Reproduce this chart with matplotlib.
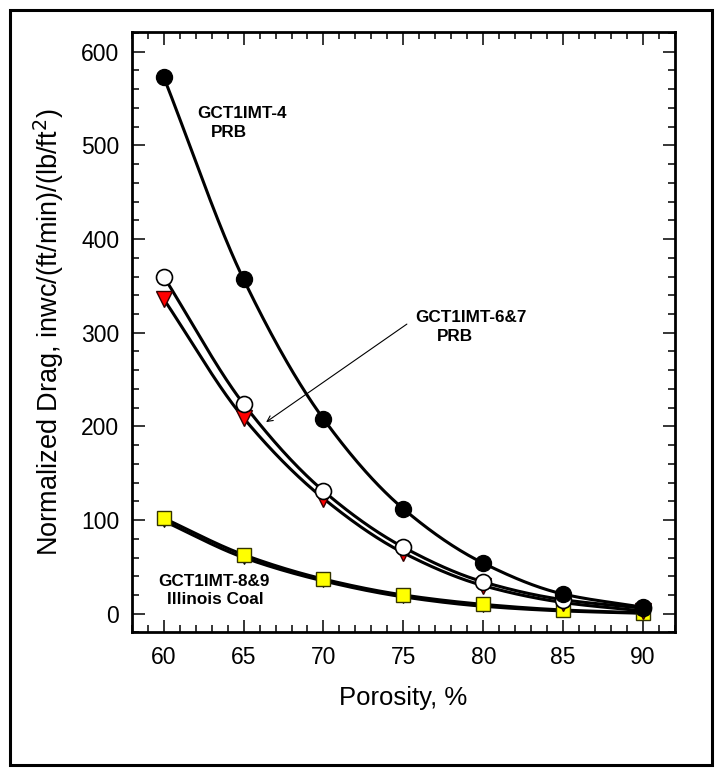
import numpy as np
import matplotlib
matplotlib.use("Agg")
import matplotlib.pyplot as plt
from matplotlib.patches import Rectangle
from matplotlib.ticker import MultipleLocator

plt.rcParams['font.family'] = ['Liberation Sans', 'DejaVu Sans']

porosity = [60, 65, 70, 75, 80, 85, 90]
drag_imt4 = [573, 357, 208, 112, 54, 21, 7]
drag_imt6 = [360, 224, 131, 71, 34, 15, 6]
drag_imt7 = [336, 209, 123, 65, 30, 12, 3]
drag_imt9 = [99, 60, 35, 18, 8, 3, 0.5]
drag_imt8 = [102, 63, 37, 20, 10, 4, 1]


def pchip(x, y, xs):
    """Monotone cubic Hermite curve through the measured points."""
    x = np.asarray(x, float)
    y = np.asarray(y, float)
    h = np.diff(x)
    d = np.diff(y) / h
    m = np.zeros_like(y)
    for k in range(1, len(x) - 1):
        if d[k - 1] * d[k] > 0:
            w1 = 2 * h[k] + h[k - 1]
            w2 = h[k] + 2 * h[k - 1]
            m[k] = (w1 + w2) / (w1 / d[k - 1] + w2 / d[k])
    m[0] = d[0]
    m[-1] = d[-1]
    idx = np.clip(np.searchsorted(x, xs) - 1, 0, len(x) - 2)
    t = (xs - x[idx]) / h[idx]
    h00 = 2 * t**3 - 3 * t**2 + 1
    h10 = t**3 - 2 * t**2 + t
    h01 = -2 * t**3 + 3 * t**2
    h11 = t**3 - t**2
    return (h00 * y[idx] + h10 * h[idx] * m[idx]
            + h01 * y[idx + 1] + h11 * h[idx] * m[idx + 1])


fig = plt.figure(figsize=(7.23, 7.75), dpi=100)
ax = fig.add_axes([0.1822, 0.1839, 0.7514, 0.7748])

xs = np.linspace(60, 90, 300)
series = [
    (drag_imt9, dict(marker='v', ms=8, mfc='#2e8b2e', mec='black', mew=0.8)),
    (drag_imt8, dict(marker='s', ms=10.5, mfc='#ffff00', mec='#333300', mew=1.0)),
    (drag_imt7, dict(marker='v', ms=11, mfc='#ff0000', mec='#330000', mew=1.0)),
    (drag_imt6, dict(marker='o', ms=11.5, mfc='white', mec='black', mew=1.2)),
    (drag_imt4, dict(marker='o', ms=11.5, mfc='black', mec='black', mew=1.0)),
]
for vals, _ in series:
    ax.plot(xs, pchip(porosity, vals, xs), color='black', lw=2.2, zorder=2)
for vals, style in series:
    ax.plot(porosity, vals, ls='none', zorder=3, **style)

ax.set_xlim(58, 92)
ax.set_ylim(-20, 621)
ax.xaxis.set_minor_locator(MultipleLocator(1))
ax.yaxis.set_major_locator(MultipleLocator(100))
ax.yaxis.set_minor_locator(MultipleLocator(20))
ax.set_xticks(porosity)
ax.tick_params(which='both', direction='in', top=True, right=True, width=1.1,
               labelsize=16.5)
ax.tick_params(which='major', length=9)
ax.tick_params(which='minor', length=5)
ax.tick_params(axis='x', pad=10)
ax.tick_params(axis='y', pad=9)
for sp in ax.spines.values():
    sp.set_linewidth(2.0)

ax.set_xlabel('Porosity, %', fontsize=18.5, labelpad=12)
ax.set_ylabel('Normalized Drag, inwc/(ft/min)/(lb/ft$^2$)', fontsize=19.5,
              labelpad=11)

bold = dict(fontsize=12.3, fontweight='bold', va='center', ha='left')
ax.text(62.09, 533.6, 'GCT1IMT-4', **bold)
ax.text(62.97, 513.7, 'PRB', **bold)
ax.text(75.74, 316.6, 'GCT1IMT-6&7', **bold)
ax.text(77.1, 296, 'PRB', **bold)
ax.text(59.67, 34.5, 'GCT1IMT-8&9', **bold)
ax.text(60.19, 15, 'Illinois Coal', **bold)
ax.annotate('', xy=(66.41, 204.6), xytext=(75.22, 309.2),
            arrowprops=dict(arrowstyle='->', color='black', lw=0.8,
                            shrinkA=0, shrinkB=0))

fig.add_artist(Rectangle((10 / 723, 10 / 775), 702 / 723, 755 / 775,
                         transform=fig.transFigure, fill=False,
                         edgecolor='black', lw=2.2))

fig.savefig('out.png', dpi=100)
